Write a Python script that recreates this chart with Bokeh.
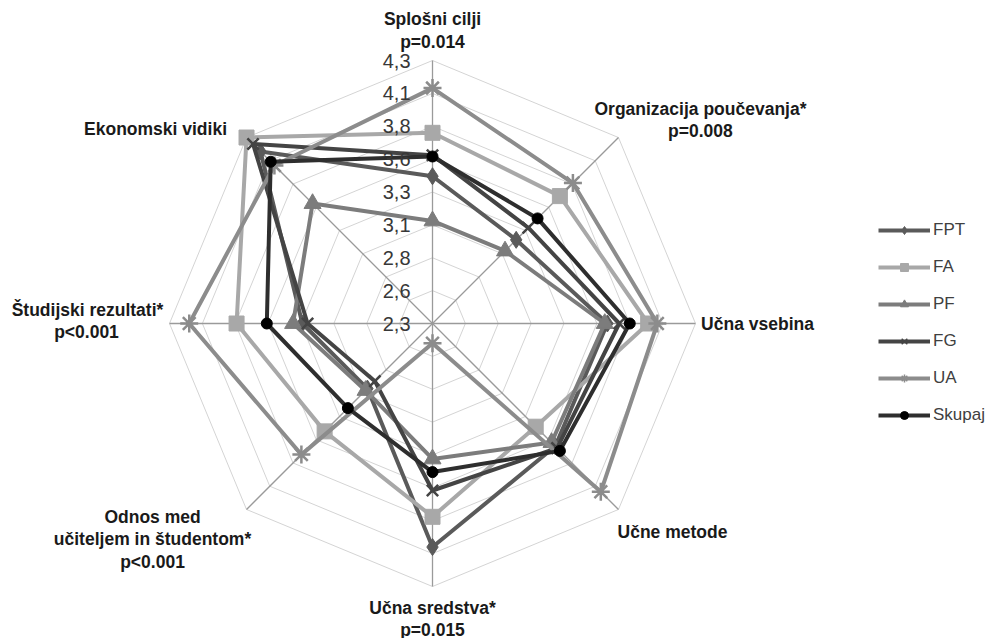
import math
from bokeh.plotting import figure
from bokeh.models import Range1d, ColumnDataSource, Legend, LegendItem
from bokeh.core.properties import value
from bokeh.embed import file_html
from bokeh.resources import INLINE

# ---- data ----
axes_labels = [
    ["Splošni cilji", "p=0.014"],
    ["Organizacija poučevanja*", "p=0.008"],
    ["Učna vsebina"],
    ["Učne metode"],
    ["Učna sredstva*", "p=0.015"],
    ["Odnos med", "učiteljem in študentom*", "p<0.001"],
    ["Študijski rezultati*", "p<0.001"],
    ["Ekonomski vidiki"],
]
series_names = ["FPT", "FA", "PF", "FG", "UA", "Skupaj"]
FPT = [3.42, 3.20, 3.63, 3.62, 4.00, 3.00, 3.29, 4.15]
FA = [3.75, 3.67, 3.94, 3.41, 3.77, 3.46, 3.79, 4.30]
PF = [3.08, 3.08, 3.61, 3.58, 3.33, 3.02, 3.36, 3.59]
FG = [3.58, 3.33, 3.72, 3.64, 3.57, 2.92, 3.25, 4.23]
UA = [4.09, 3.81, 4.01, 4.11, 2.45, 3.71, 4.15, 4.00]
Skupaj = [3.57, 3.43, 3.80, 3.67, 3.43, 3.21, 3.56, 4.04]
tick_values = [2.3, 2.55, 2.8, 3.05, 3.3, 3.55, 3.8, 4.05, 4.3]
tick_labels = ["2,3", "2,6", "2,8", "3,1", "3,3", "3,6", "3,8", "4,1", "4,3"]
vmin, vmax = 2.3, 4.3

# ---- styles ----
styles = {
    "FPT": dict(color="#5a5a5a", marker="diamond", size=17, mcolor="#5a5a5a"),
    "FA": dict(color="#a8a8a8", marker="square", size=15, mcolor="#a8a8a8"),
    "PF": dict(color="#7c7c7c", marker="triangle", size=17, mcolor="#7c7c7c"),
    "FG": dict(color="#444444", marker="x", size=16, mcolor="#444444"),
    "UA": dict(color="#8c8c8c", marker="asterisk", size=18, mcolor="#8c8c8c"),
    "Skupaj": dict(color="#2e2e2e", marker="circle", size=11, mcolor="#000000"),
}
series_vals = dict(zip(series_names, [FPT, FA, PF, FG, UA, Skupaj]))

W, H = 991, 638
CX, CY = 432, 323          # center in frame px
SCALE = 131.5              # px per value unit
N = len(axes_labels)
angles = [i * 2 * math.pi / N for i in range(N)]


def pol(v, a):
    r = v - vmin
    return r * math.sin(a), r * math.cos(a)


p = figure(width=W, height=H, output_backend="svg", toolbar_location=None,
           x_range=Range1d(-CX / SCALE, (W - CX) / SCALE),
           y_range=Range1d(-(H - CY) / SCALE, CY / SCALE),
           x_axis_location=None, y_axis_location=None,
           min_border=0, min_border_left=0, min_border_right=0,
           min_border_top=0, min_border_bottom=0)
p.grid.visible = False
p.outline_line_color = None
p.background_fill_color = "white"

# rings
ring_xs, ring_ys = [], []
for tv in tick_values[1:]:
    pts = [pol(tv, a) for a in angles] + [pol(tv, angles[0])]
    ring_xs.append([q[0] for q in pts])
    ring_ys.append([q[1] for q in pts])
p.multi_line(ring_xs, ring_ys, line_color="#d4d4d4", line_width=1)

# spokes
sx1 = [pol(vmax, a)[0] for a in angles]
sy1 = [pol(vmax, a)[1] for a in angles]
p.segment(x0=[0] * N, y0=[0] * N, x1=sx1, y1=sy1, line_color="#9a9a9a", line_width=1.3)

# series
legend_items = []
nan = float("nan")
for name in series_names:
    st = series_vals[name]
    s = styles[name]
    pts = [pol(v, a) for v, a in zip(st, angles)]
    xs = [q[0] for q in pts] + [pts[0][0]]
    ys = [q[1] for q in pts] + [pts[0][1]]
    p.line(xs, ys, line_color=s["color"], line_width=4, line_join="round")
    lw = 2.5 if s["marker"] in ("x", "asterisk") else 1
    p.scatter([q[0] for q in pts], [q[1] for q in pts], marker=s["marker"], size=s["size"],
              fill_color=s["mcolor"], line_color=s["mcolor"], line_width=lw)
    # legend-only renderers (not visible in the plot area)
    lr = p.line([nan, nan], [nan, nan], line_color=s["color"], line_width=4)
    sr = p.scatter([nan], [nan], marker=s["marker"], size=max(8, s["size"] * 0.6),
                   fill_color=s["mcolor"], line_color=s["mcolor"], line_width=1.5 if lw > 1 else 1)
    legend_items.append(LegendItem(label=name, renderers=[lr, sr]))

# tick labels
tsrc = ColumnDataSource(dict(x=[0.0] * len(tick_values),
                             y=[v - vmin for v in tick_values],
                             t=tick_labels))
p.text(x="x", y="y", text="t", source=tsrc, x_offset=-22, text_align="right",
       text_baseline="middle", text_font=value("Liberation Sans"),
       text_font_size="20px", text_color="#383838")

# axis labels (offsets in px from spoke tips)
label_offsets = [
    [(0, -42), (0, -19)],
    [(82, -29), (82, -7)],
    [(62, 0)],
    [(54, 23)],
    [(0, 21), (0, 43)],
    [(-94, 8), (-94, 30), (-94, 53)],
    [(-82, -14), (-83, 8)],
    [(-91, -9)],
]
lx, ly, lt, lox, loy = [], [], [], [], []
for lines, offs, a in zip(axes_labels, label_offsets, angles):
    tx, ty = pol(vmax, a)
    for line, (ox, oy) in zip(lines, offs):
        lx.append(tx); ly.append(ty); lt.append(line); lox.append(ox); loy.append(oy)
lsrc = ColumnDataSource(dict(x=lx, y=ly, t=lt, ox=lox, oy=loy))
p.text(x="x", y="y", text="t", source=lsrc, x_offset="ox", y_offset="oy",
       text_align="center", text_baseline="middle", text_font=value("Liberation Sans"),
       text_font_style="bold", text_font_size="17.5px", text_color="#1a1a1a")

legend = Legend(items=legend_items, location=(878, 213), padding=0, margin=0,
                spacing=17, glyph_width=52, glyph_height=20, label_standoff=3,
                label_text_font="Liberation Sans", label_text_font_size="17px",
                label_text_color="#404040", border_line_color=None,
                background_fill_alpha=0, label_height=20)
p.add_layout(legend)

open("out.html", "w").write(file_html(p, INLINE))
